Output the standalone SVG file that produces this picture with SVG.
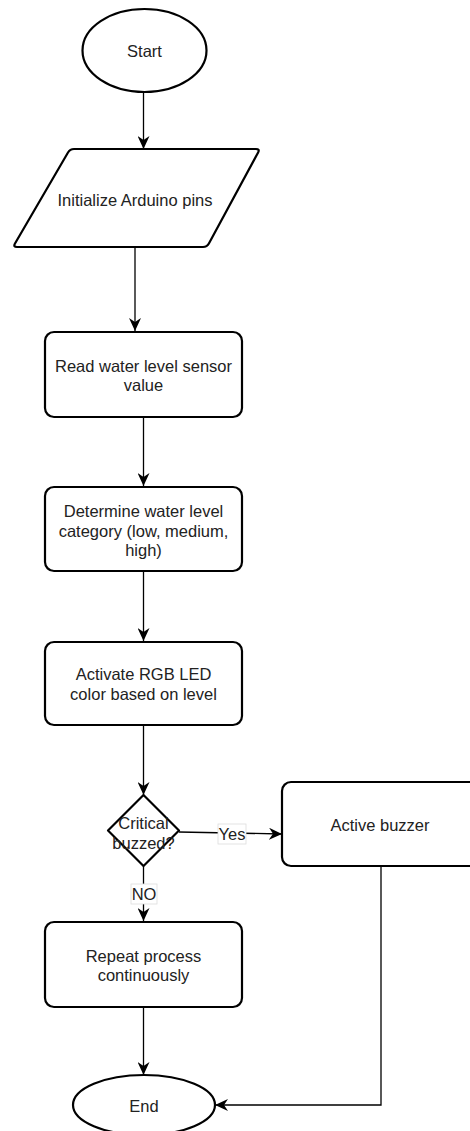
<svg xmlns="http://www.w3.org/2000/svg" width="470" height="1131" viewBox="0 0 470 1131">
  <defs>
    <marker id="arr" viewBox="0 0 13 12" refX="13" refY="6" markerWidth="13" markerHeight="12" markerUnits="userSpaceOnUse" orient="auto">
      <path d="M0,0 L13,6 L0,12 L4,6 Z" fill="#000"/>
    </marker>
    <style>
      .node { fill: #fff; stroke: #000; stroke-width: 2.2; stroke-linejoin: round; }
      .edge { fill: none; stroke: #000; stroke-width: 1.3; }
      .t { font-family: "Liberation Sans", Arial, sans-serif; font-size: 16.5px; fill: #222; text-anchor: middle; }
      .lbl { fill: #fff; stroke: #ddd; stroke-width: 0.8; }
    </style>
  </defs>
  <rect width="470" height="1131" fill="#fff"/>

  <g id="connectors">
    <path class="edge" d="M143.5,92 L143.5,149" marker-end="url(#arr)"/>
    <path class="edge" d="M135,247 L135,331" marker-end="url(#arr)"/>
    <path class="edge" d="M143.5,417 L143.5,486" marker-end="url(#arr)"/>
    <path class="edge" d="M143.5,571 L143.5,641" marker-end="url(#arr)"/>
    <path class="edge" d="M143.5,725 L143.5,795" marker-end="url(#arr)"/>
    <path class="edge" d="M179,832 L282,834" marker-end="url(#arr)"/>
    <path class="edge" d="M143.5,866 L143.5,921" marker-end="url(#arr)"/>
    <path class="edge" d="M143.5,1007 L143.5,1075" marker-end="url(#arr)"/>
    <path class="edge" d="M381,866 L381,1105 L215,1105" marker-end="url(#arr)"/>
    <g id="label-yes">
      <rect class="lbl" x="218" y="824" width="28" height="20"/>
      <text class="t" x="232" y="840">Yes</text>
    </g>
    <g id="label-no">
      <rect class="lbl" x="131" y="884" width="26" height="20"/>
      <text class="t" x="144" y="900">NO</text>
    </g>
  </g>

  <g id="start">
    <ellipse class="node" cx="144.5" cy="50.5" rx="62" ry="41.5"/>
    <text class="t" x="144.5" y="57">Start</text>
  </g>

  <g id="init">
    <path class="node" d="M74,149 L256,149 Q260,149 258.1,152.5 L208.9,243.5 Q207,247 203,247 L17,247 Q13,247 15,243.5 L68,152.5 Q70,149 74,149 Z"/>
    <text class="t" x="135" y="206">Initialize Arduino pins</text>
  </g>

  <g id="read">
    <rect class="node" x="45" y="332" width="197" height="85" rx="9"/>
    <text class="t" x="143.5" y="372">Read water level sensor</text>
    <text class="t" x="143.5" y="391">value</text>
  </g>

  <g id="determine">
    <rect class="node" x="45" y="487" width="197" height="84" rx="9"/>
    <text class="t" x="143.5" y="517">Determine water level</text>
    <text class="t" x="143.5" y="537">category (low, medium,</text>
    <text class="t" x="143.5" y="556">high)</text>
  </g>

  <g id="activate">
    <rect class="node" x="45" y="642" width="197" height="83" rx="9"/>
    <text class="t" x="143.5" y="680">Activate RGB LED</text>
    <text class="t" x="143.5" y="700">color based on level</text>
  </g>

  <g id="decision">
    <path class="node" d="M143.5,795 L179,830.5 L143.5,866 L108,830.5 Z"/>
    <text class="t" x="143.5" y="829">Critical</text>
    <text class="t" x="143.5" y="849">buzzed?</text>
  </g>

  <g id="buzzer">
    <rect class="node" x="282" y="782" width="200" height="84" rx="9"/>
    <text class="t" x="380" y="831">Active buzzer</text>
  </g>

  <g id="repeat">
    <rect class="node" x="45" y="922" width="197" height="85" rx="9"/>
    <text class="t" x="143.5" y="962">Repeat process</text>
    <text class="t" x="143.5" y="981">continuously</text>
  </g>

  <g id="end">
    <ellipse class="node" cx="144" cy="1105" rx="71" ry="30"/>
    <text class="t" x="144" y="1112">End</text>
  </g>
</svg>
